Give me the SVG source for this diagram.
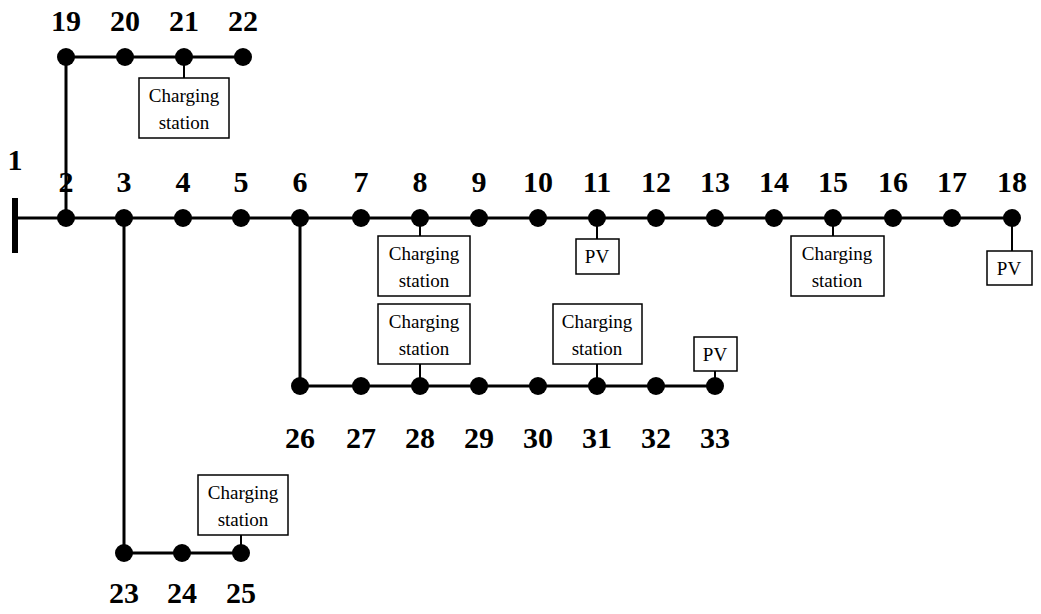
<svg xmlns="http://www.w3.org/2000/svg" width="1041" height="614" viewBox="0 0 1041 614">
<style>
.ln{stroke:#000;stroke-width:3;fill:none}
.bx{stroke:#000;stroke-width:1.5;fill:#fff}
.n{font-family:"Liberation Serif",serif;font-weight:bold;font-size:30px;text-anchor:middle}
.t{font-family:"Liberation Serif",serif;font-size:19px;text-anchor:middle}
</style>
<rect width="1041" height="614" fill="#fff"/>
<g id="connectors">
<line class="ln" x1="15" y1="218" x2="1012" y2="218"/>
<line x1="15" y1="198" x2="15" y2="253" stroke="#000" stroke-width="6"/>
<polyline class="ln" points="66,218 66,57 243,57"/>
<polyline class="ln" points="124,218 124,553 241,553"/>
<polyline class="ln" points="300,218 300,386 715,386"/>
<g stroke="#000" stroke-width="2">
<line x1="184" y1="57" x2="184" y2="78"/>
<line x1="420" y1="218" x2="420" y2="236"/>
<line x1="597" y1="218" x2="597" y2="239"/>
<line x1="833" y1="218" x2="833" y2="236"/>
<line x1="1012" y1="218" x2="1012" y2="251"/>
<line x1="420" y1="364" x2="420" y2="386"/>
<line x1="597" y1="364" x2="597" y2="386"/>
<line x1="715" y1="371" x2="715" y2="386"/>
<line x1="241" y1="535" x2="241" y2="553"/>
</g>
</g>
<g id="nodes">
<text class="n" x="15" y="170">1</text>
<g id="n2"><circle cx="66" cy="218" r="9"/><text class="n" x="66" y="192">2</text></g>
<g id="n3"><circle cx="124" cy="218" r="9"/><text class="n" x="124" y="192">3</text></g>
<g id="n4"><circle cx="183" cy="218" r="9"/><text class="n" x="183" y="192">4</text></g>
<g id="n5"><circle cx="241" cy="218" r="9"/><text class="n" x="241" y="192">5</text></g>
<g id="n6"><circle cx="300" cy="218" r="9"/><text class="n" x="300" y="192">6</text></g>
<g id="n7"><circle cx="361" cy="218" r="9"/><text class="n" x="361" y="192">7</text></g>
<g id="n8"><circle cx="420" cy="218" r="9"/><text class="n" x="420" y="192">8</text></g>
<g id="n9"><circle cx="479" cy="218" r="9"/><text class="n" x="479" y="192">9</text></g>
<g id="n10"><circle cx="538" cy="218" r="9"/><text class="n" x="538" y="192">10</text></g>
<g id="n11"><circle cx="597" cy="218" r="9"/><text class="n" x="597" y="192">11</text></g>
<g id="n12"><circle cx="656" cy="218" r="9"/><text class="n" x="656" y="192">12</text></g>
<g id="n13"><circle cx="715" cy="218" r="9"/><text class="n" x="715" y="192">13</text></g>
<g id="n14"><circle cx="774" cy="218" r="9"/><text class="n" x="774" y="192">14</text></g>
<g id="n15"><circle cx="833" cy="218" r="9"/><text class="n" x="833" y="192">15</text></g>
<g id="n16"><circle cx="893" cy="218" r="9"/><text class="n" x="893" y="192">16</text></g>
<g id="n17"><circle cx="952" cy="218" r="9"/><text class="n" x="952" y="192">17</text></g>
<g id="n18"><circle cx="1012" cy="218" r="9"/><text class="n" x="1012" y="192">18</text></g>
<g id="n19"><circle cx="66" cy="57" r="9"/><text class="n" x="66" y="31">19</text></g>
<g id="n20"><circle cx="125" cy="57" r="9"/><text class="n" x="125" y="31">20</text></g>
<g id="n21"><circle cx="184" cy="57" r="9"/><text class="n" x="184" y="31">21</text></g>
<g id="n22"><circle cx="243" cy="57" r="9"/><text class="n" x="243" y="31">22</text></g>
<g id="n23"><circle cx="124" cy="553" r="9"/><text class="n" x="124" y="603">23</text></g>
<g id="n24"><circle cx="182" cy="553" r="9"/><text class="n" x="182" y="603">24</text></g>
<g id="n25"><circle cx="241" cy="553" r="9"/><text class="n" x="241" y="603">25</text></g>
<g id="n26"><circle cx="300" cy="386" r="9"/><text class="n" x="300" y="448">26</text></g>
<g id="n27"><circle cx="361" cy="386" r="9"/><text class="n" x="361" y="448">27</text></g>
<g id="n28"><circle cx="420" cy="386" r="9"/><text class="n" x="420" y="448">28</text></g>
<g id="n29"><circle cx="479" cy="386" r="9"/><text class="n" x="479" y="448">29</text></g>
<g id="n30"><circle cx="538" cy="386" r="9"/><text class="n" x="538" y="448">30</text></g>
<g id="n31"><circle cx="597" cy="386" r="9"/><text class="n" x="597" y="448">31</text></g>
<g id="n32"><circle cx="656" cy="386" r="9"/><text class="n" x="656" y="448">32</text></g>
<g id="n33"><circle cx="715" cy="386" r="9"/><text class="n" x="715" y="448">33</text></g>
<g id="cs21"><rect class="bx" x="139" y="78" width="90" height="60"/><text class="t" x="184" y="102">Charging</text><text class="t" x="184" y="129">station</text></g>
<g id="cs8"><rect class="bx" x="378" y="236" width="92" height="60"/><text class="t" x="424" y="260">Charging</text><text class="t" x="424" y="287">station</text></g>
<g id="pv11"><rect class="bx" x="576" y="239" width="43" height="35"/><text class="t" x="597" y="263">PV</text></g>
<g id="cs15"><rect class="bx" x="791" y="236" width="93" height="60"/><text class="t" x="837" y="260">Charging</text><text class="t" x="837" y="287">station</text></g>
<g id="pv18"><rect class="bx" x="987" y="251" width="45" height="34"/><text class="t" x="1009" y="275">PV</text></g>
<g id="cs28"><rect class="bx" x="378" y="304" width="92" height="60"/><text class="t" x="424" y="328">Charging</text><text class="t" x="424" y="355">station</text></g>
<g id="cs31"><rect class="bx" x="553" y="304" width="89" height="60"/><text class="t" x="597" y="328">Charging</text><text class="t" x="597" y="355">station</text></g>
<g id="pv33"><rect class="bx" x="694" y="337" width="43" height="34"/><text class="t" x="715" y="361">PV</text></g>
<g id="cs25"><rect class="bx" x="198" y="475" width="90" height="60"/><text class="t" x="243" y="499">Charging</text><text class="t" x="243" y="526">station</text></g>
</g>
</svg>
